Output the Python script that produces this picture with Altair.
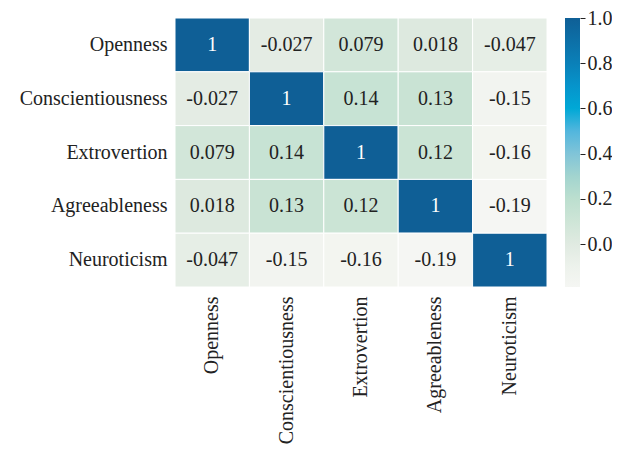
import altair as alt
import pandas as pd

traits = ["Openness", "Conscientiousness", "Extrovertion", "Agreeableness", "Neuroticism"]
corr = [
    [1, -0.027, 0.079, 0.018, -0.047],
    [-0.027, 1, 0.14, 0.13, -0.15],
    [0.079, 0.14, 1, 0.12, -0.16],
    [0.018, 0.13, 0.12, 1, -0.19],
    [-0.047, -0.15, -0.16, -0.19, 1],
]
labels = [
    ["1", "-0.027", "0.079", "0.018", "-0.047"],
    ["-0.027", "1", "0.14", "0.13", "-0.15"],
    ["0.079", "0.14", "1", "0.12", "-0.16"],
    ["0.018", "0.13", "0.12", "1", "-0.19"],
    ["-0.047", "-0.15", "-0.16", "-0.19", "1"],
]
cbar_ticks = [0.0, 0.2, 0.4, 0.6, 0.8, 1.0]
vmin, vmax = -0.19, 1.0

# colormap stops (value -> colour)
stop_vals = [-0.19, -0.1, 0.0, 0.1, 0.2, 0.3, 0.4, 0.5, 0.6, 0.7, 0.8, 1.0]
stop_cols = ["#f5f6f3", "#edf2ec", "#e0eae1", "#cee5d7", "#bcdfcf", "#a2d4cf",
             "#80c4d8", "#52b6dd", "#00a8d6", "#0694cb", "#0a80b8", "#0f5f96"]

rows = []
for i, r in enumerate(traits):
    for j, c in enumerate(traits):
        rows.append({"row": r, "col": c, "value": corr[i][j], "label": labels[i][j]})
df = pd.DataFrame(rows)

FONT = "Liberation Serif"
FS = 20

color_scale = alt.Scale(domain=stop_vals, range=stop_cols, clamp=True)

base = alt.Chart(df).encode(
    x=alt.X("col:N", sort=traits, title=None,
            axis=alt.Axis(labelAngle=-90, ticks=False, domain=False, labelPadding=9,
                          labelFont=FONT, labelFontSize=FS, labelColor="#222", labelLimit=300)),
    y=alt.Y("row:N", sort=traits, title=None,
            axis=alt.Axis(ticks=False, domain=False, labelPadding=8,
                          labelFont=FONT, labelFontSize=FS, labelColor="#222", labelLimit=300)),
)

heat = base.mark_rect(stroke="white", strokeWidth=1).encode(
    color=alt.Color("value:Q", scale=color_scale, legend=None)
)
text = base.mark_text(font=FONT, fontSize=FS).encode(
    text="label:N",
    color=alt.condition(alt.datum.value > 0.5, alt.value("white"), alt.value("#222")),
)
heatmap = (heat + text).properties(width=372, height=269)

# colorbar
cb_df = pd.DataFrame({"lo": [vmin], "hi": [vmax]})
grad_stops = [alt.GradientStop(offset=(v - vmin) / (vmax - vmin), color=c)
              for v, c in zip(stop_vals, stop_cols)]
cbar = alt.Chart(cb_df).mark_rect(
    color=alt.LinearGradient(gradient="linear", stops=grad_stops, x1=0, x2=0, y1=1, y2=0)
).encode(
    x=alt.value(0), x2=alt.value(15),
    y=alt.Y("lo:Q", scale=alt.Scale(domain=[vmin, vmax], nice=False, zero=False), title=None,
            axis=alt.Axis(orient="right", values=cbar_ticks, format=".1f", grid=False, domain=False,
                          tickSize=5, tickColor="#222", labelPadding=2, labelFont=FONT,
                          labelFontSize=FS, labelColor="#222")),
    y2="hi:Q",
).properties(width=15, height=269)

chart = alt.hconcat(heatmap, cbar, spacing=17).properties(
    padding={"left": 11, "top": 0, "right": 0, "bottom": 0},
).configure_view(stroke=None)

chart.save("out.html", embed_options={"renderer": "svg", "actions": False})
